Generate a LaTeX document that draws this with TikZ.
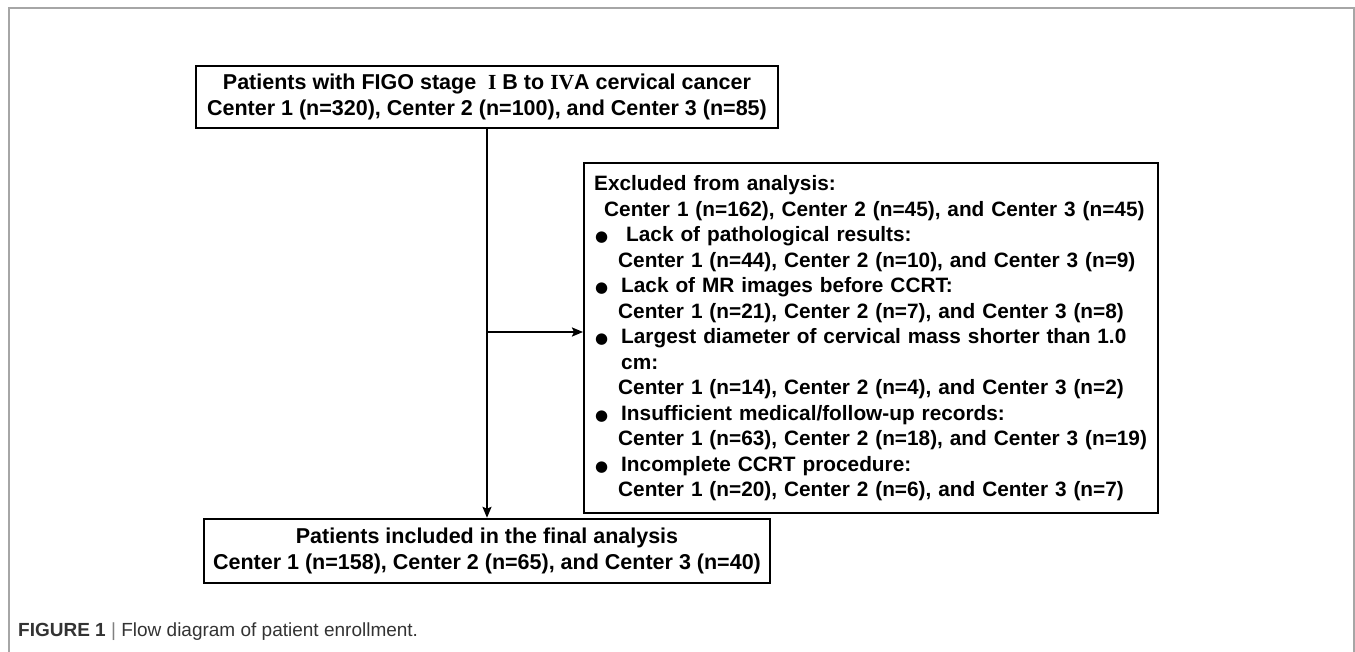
\documentclass[tikz,border=0pt]{standalone}
\usepackage{fontspec}
\setmainfont{Liberation Sans}
\newfontfamily\romfont{Liberation Serif}
\newfontfamily\symfont{DejaVu Sans}
\usetikzlibrary{arrows.meta}
\definecolor{framegray}{HTML}{A6A6A6}
\definecolor{capgray}{HTML}{333333}
\newcommand{\mybul}{{\symfont\fontsize{15}{15}\selectfont ●}}
\newcommand{\excitem}[1]{\mbox{\makebox[27pt][l]{\hspace*{1pt}\mybul}#1}}
\newcommand{\ctrline}[1]{\mbox{\hspace*{24pt}#1}}
\begin{document}
\begin{tikzpicture}[x=1pt,y=-1pt,
  box/.style={draw=black, line width=2.4pt, font=\bfseries\fontsize{21.5}{26}\selectfont, align=center, inner sep=0pt},
  conn/.style={line width=2pt, -{Stealth[length=11pt,width=9pt,inset=2pt]}},
]
\useasboundingbox (0,0) rectangle (1355,652);
\draw[framegray, line width=2pt] (9,652) -- (9,8) -- (1354,8) -- (1354,652);

\node[box, minimum width=582pt, minimum height=62pt] (top) at (487,97)
  {Patients with FIGO stage\ \ {\romfont I} B to {\romfont IV}A cervical cancer\\
   Center 1 (n=320), Center 2 (n=100), and Center 3 (n=85)};

\node[box, minimum width=566pt, minimum height=64pt] (inc) at (487,551)
  {Patients included in the final analysis\\
   Center 1 (n=158), Center 2 (n=65), and Center 3 (n=40)};

\node[box, anchor=north west, align=left, text width=554pt, inner xsep=10pt,
      minimum width=574pt, minimum height=350pt,
      font=\bfseries\fontsize{20.8}{25.5}\selectfont] (exc) at (583,162)
  {\mbox{Excluded from analysis:}\\
   \ctrline{\hspace*{-14pt}Center 1 (n=162), Center 2 (n=45), and Center 3 (n=45)}\\
   \excitem{\hspace*{5pt}Lack of pathological results:}\\
   \ctrline{Center 1 (n=44), Center 2 (n=10), and Center 3 (n=9)}\\
   \excitem{Lack of MR images before CCRT:}\\
   \ctrline{Center 1 (n=21), Center 2 (n=7), and Center 3 (n=8)}\\
   \excitem{Largest diameter of cervical mass shorter than 1.0}\\
   \mbox{\hspace*{27pt}cm:}\\
   \ctrline{Center 1 (n=14), Center 2 (n=4), and Center 3 (n=2)}\\
   \excitem{Insufficient medical/follow-up records:}\\
   \ctrline{Center 1 (n=63), Center 2 (n=18), and Center 3 (n=19)}\\
   \excitem{Incomplete CCRT procedure:}\\
   \ctrline{Center 1 (n=20), Center 2 (n=6), and Center 3 (n=7)}};

\coordinate (split) at (487,332);
\draw[conn] (top.south) -- (inc.north);
\draw[conn] (split) -- (split -| exc.west);

\node[anchor=west, inner sep=0pt, text=capgray, font=\fontsize{19}{22}\selectfont] (cap) at (18,632)
  {\textbf{FIGURE 1} {\color{gray}|} Flow diagram of patient enrollment.};
\end{tikzpicture}
\end{document}
